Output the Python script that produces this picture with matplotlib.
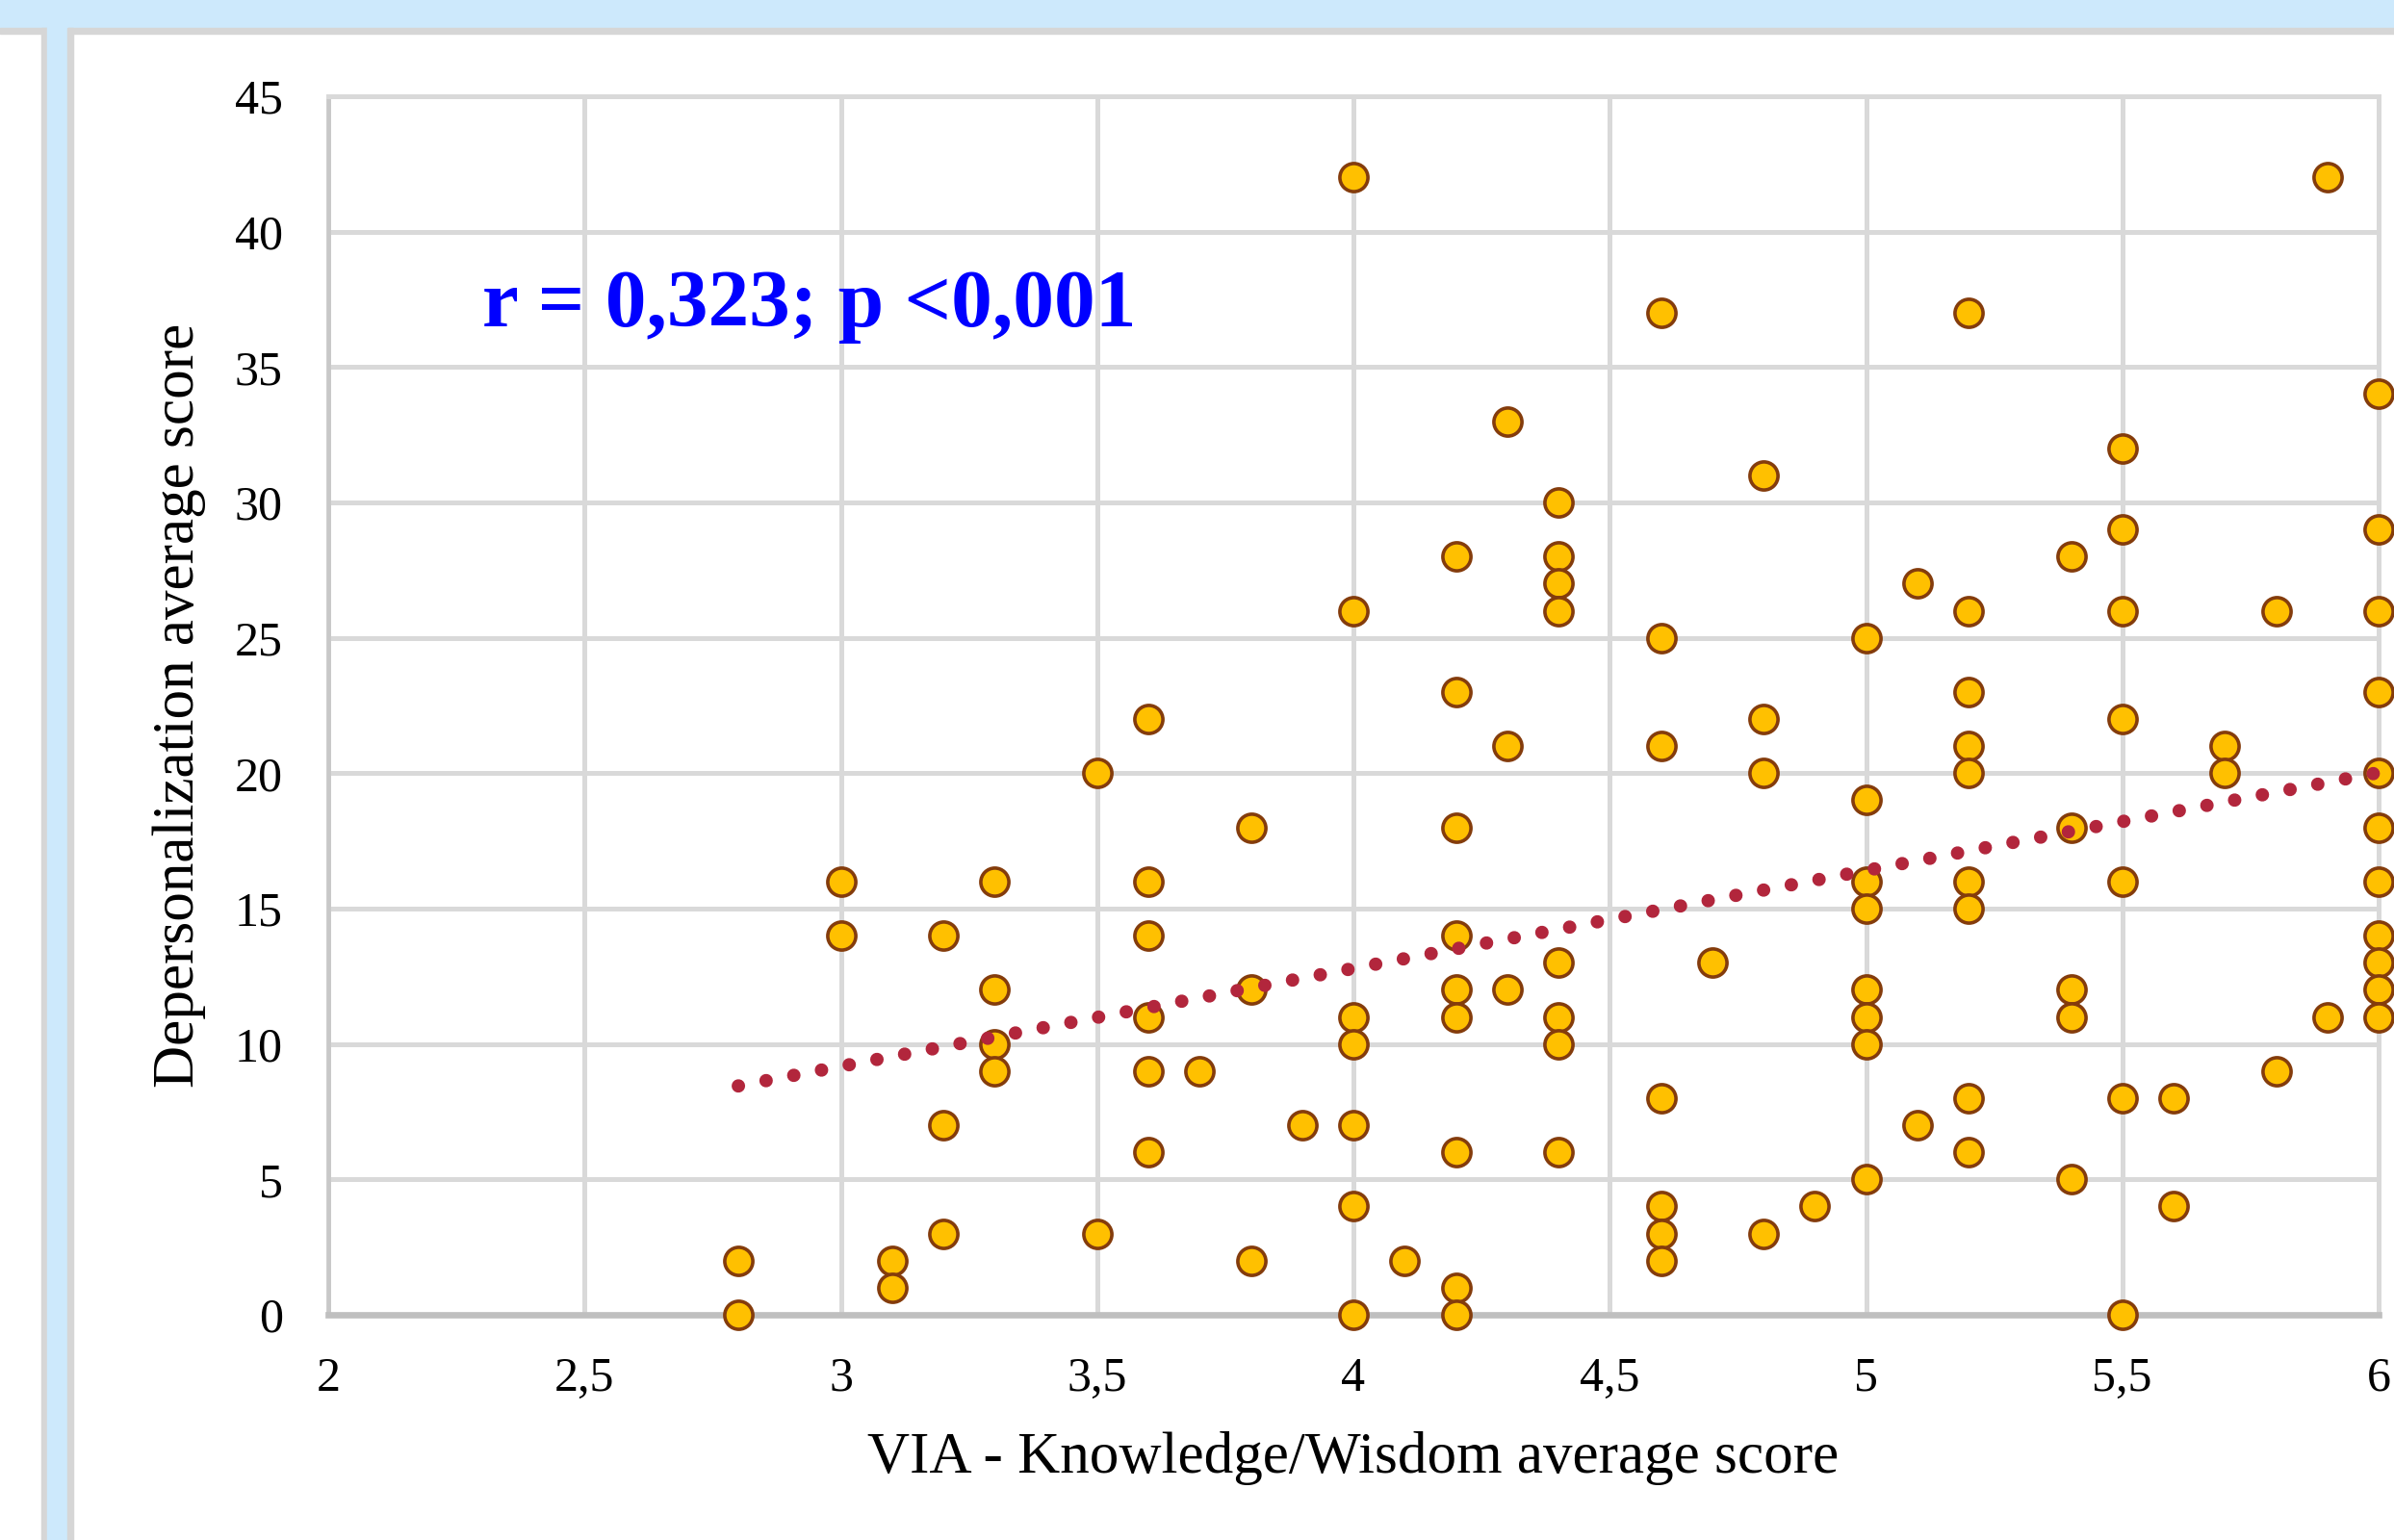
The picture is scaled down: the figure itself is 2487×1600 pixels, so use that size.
import numpy as np
import matplotlib.pyplot as plt
from matplotlib.patches import Rectangle
from matplotlib.ticker import FuncFormatter

plt.rcParams['font.family'] = ['Liberation Serif', 'DejaVu Serif']

# x columns (VIA Knowledge/Wisdom) and the depersonalization scores seen in each column
via_levels = [2.8, 3.0, 3.1, 3.2, 3.3, 3.5, 3.6, 3.7, 3.8, 3.9,
              4.0, 4.1, 4.2, 4.3, 4.4, 4.6, 4.7, 4.8, 4.9, 5.0,
              5.1, 5.2, 5.4, 5.5, 5.6, 5.7, 5.8, 5.9, 6.0]
depers_by_level = [
    [2, 0],
    [16, 14],
    [2, 1],
    [14, 7, 3],
    [16, 12, 10, 9],
    [20, 3],
    [22, 16, 14, 11, 9, 6],
    [9],
    [18, 12, 2],
    [7],
    [42, 26, 11, 10, 7, 4, 0],
    [2],
    [28, 23, 18, 14, 12, 11, 6, 1, 0],
    [33, 21, 12],
    [30, 28, 27, 26, 13, 11, 10, 6],
    [37, 25, 21, 8, 4, 3, 2],
    [13],
    [31, 22, 20, 3],
    [4],
    [25, 19, 16, 15, 12, 11, 10, 5],
    [27, 7],
    [37, 26, 23, 21, 20, 16, 15, 8, 6],
    [28, 18, 12, 11, 5],
    [32, 29, 26, 22, 16, 8, 0],
    [8, 4],
    [21, 20],
    [26, 9],
    [42, 11],
    [34, 29, 26, 23, 20, 18, 16, 14, 13, 12, 11],
]

x_ticks = [2, 2.5, 3, 3.5, 4, 4.5, 5, 5.5, 6]
y_ticks = [0, 5, 10, 15, 20, 25, 30, 35, 40, 45]
stats_label = 'r = 0,323; p <0,001'

x = np.concatenate([[lv] * len(ys) for lv, ys in zip(via_levels, depers_by_level)])
y = np.concatenate(depers_by_level).astype(float)

W, H = 2487, 1600
fig = plt.figure(figsize=(W / 100, H / 100), dpi=100)
fig.patch.set_facecolor('white')


def frame_rect(x0, y0, x1, y1, color):
    # rectangle given in pixels from the top-left corner of the figure
    fig.patches.append(Rectangle((x0 / W, 1 - y1 / H), (x1 - x0) / W, (y1 - y0) / H,
                                 transform=fig.transFigure, color=color, zorder=-10))


blue = '#CDE9FC'
edge = '#D6D6D6'
frame_rect(0, 0, W, 29, blue)
frame_rect(0, 29, W, 35, edge)
frame_rect(43, 29, 49, H, edge)
frame_rect(49, 0, 70, H, blue)
frame_rect(70, 29, 76, H, edge)

ax = fig.add_axes([341 / W, 1 - 1366 / H, (2471 - 341) / W, (1366 - 100) / H])
ax.set_facecolor('white')
ax.set_xlim(2, 6)
ax.set_ylim(0, 45)
ax.set_xticks(x_ticks)
ax.set_yticks(y_ticks)
ax.xaxis.set_major_formatter(FuncFormatter(lambda v, p: f'{v:g}'.replace('.', ',')))
ax.tick_params(length=0, labelsize=36)
ax.tick_params(axis='x', pad=31)
ax.tick_params(axis='y', pad=34)

ax.set_axisbelow(True)
ax.grid(color='#D9D9D9', lw=3.6)
for side in ['top', 'right']:
    ax.spines[side].set_color('#D9D9D9')
    ax.spines[side].set_linewidth(3.6)
ax.spines['left'].set_color('#C8C8C8')
ax.spines['left'].set_linewidth(3.4)
ax.spines['bottom'].set_color('#BFBFBF')
ax.spines['bottom'].set_linewidth(4.8)

ax.plot(x, y, 'o', ls='none', ms=21, mfc='#FFC000', mec='#843C0C', mew=2.6,
        clip_on=False, zorder=4)

# linear trend line, fitted on the points
slope, intercept = np.polyfit(x, y, 1)
tx = np.array([x.min(), x.max()])
ax.plot(tx, slope * tx + intercept, color='#B2263C', lw=10,
        ls=(0, (0.01, 2.1)), dash_capstyle='round', clip_on=False, zorder=5)

ax.text(2.30, 36.5, stats_label, color='#0000FF', fontsize=61.5, fontweight='bold',
        ha='left', va='baseline')

ax.set_xlabel('VIA - Knowledge/Wisdom average score', fontsize=44, va='center')
ax.xaxis.set_label_coords(0.5, -0.1177)
ax.set_ylabel('Depersonalization average score', fontsize=44, va='center', ha='center')
ax.yaxis.set_label_coords(-0.0728, 0.5)

fig.savefig('out.png', dpi=100)
